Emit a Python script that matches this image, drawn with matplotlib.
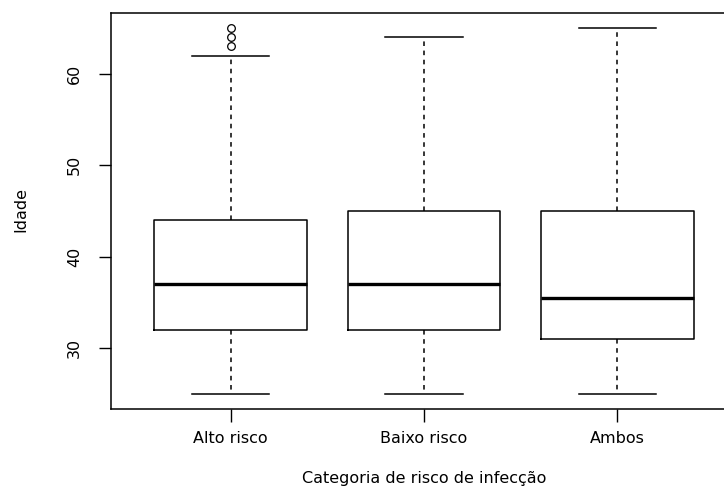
import matplotlib
matplotlib.use("Agg")
import matplotlib.pyplot as plt

categories = ["Alto risco", "Baixo risco", "Ambos"]
whislo = [25, 25, 25]
q1 = [32, 32, 31]
med = [37, 37, 35.5]
q3 = [44, 45, 45]
whishi = [62, 64, 65]
fliers = [[63, 64, 65], [], []]
yticks = [30, 40, 50, 60]

plt.rcParams['font.family'] = ['DejaVu Sans']

W, H = 724, 488
fig = plt.figure(figsize=(W / 100, H / 100), dpi=100)
left, right, top, bottom = 111, 737, 13, 409
ax = fig.add_axes([left / W, 1 - bottom / H, (right - left) / W, (bottom - top) / H])

stats = []
for i, c in enumerate(categories):
    stats.append(dict(label=c, whislo=whislo[i], q1=q1[i], med=med[i],
                      q3=q3[i], whishi=whishi[i], fliers=fliers[i]))

ax.bxp(stats, positions=[1, 2, 3], widths=0.79, showfliers=True,
       boxprops=dict(color='black', linewidth=1.1),
       medianprops=dict(color='black', linewidth=2.4, solid_capstyle='butt'),
       whiskerprops=dict(color='black', linewidth=1.1, linestyle=(0, (3, 3))),
       capprops=dict(color='black', linewidth=1.1),
       capwidths=0.4,
       flierprops=dict(marker='o', markerfacecolor='none', markeredgecolor='black',
                       markersize=5.5, markeredgewidth=0.9))

ax.set_xlim(0.38, 3.62)
ax.set_ylim(23.35, 66.65)
ax.set_yticks(yticks)
ax.set_yticklabels([str(v) for v in yticks], rotation=90, va='center')
ax.set_xticks([1, 2, 3])
ax.set_xticklabels(categories)
fs = 11.5
ax.tick_params(axis='y', length=9, width=1, pad=12, labelsize=fs, colors='black')
ax.tick_params(axis='x', length=9, width=1, pad=7, labelsize=fs, colors='black')
for s in ax.spines.values():
    s.set_linewidth(1.1)
    s.set_color('black')

fig.text(424 / W, 1 - 479 / H, "Categoria de risco de infecção", ha='center', va='center', fontsize=fs)
fig.text(21 / W, 1 - 209 / H, "Idade", ha='center', va='center', rotation=90, fontsize=fs)

fig.savefig("out.png", dpi=100)
